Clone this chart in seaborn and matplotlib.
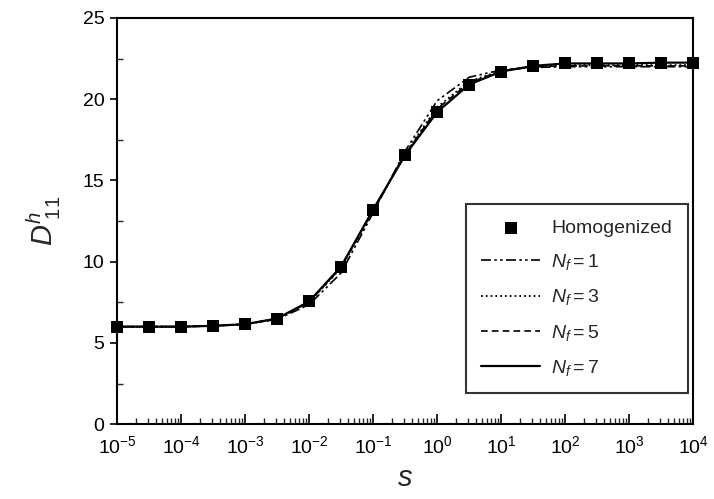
import numpy as np
import pandas as pd
import matplotlib
matplotlib.use("Agg")
import matplotlib.pyplot as plt
import seaborn as sns
from matplotlib.ticker import LogLocator, FixedLocator, NullFormatter

# ---- data ----
log_s = [-5.0, -4.5, -4.0, -3.5, -3.0, -2.5, -2.0, -1.5, -1.0, -0.5,
         0.0, 0.5, 1.0, 1.5, 2.0, 2.5, 3.0, 3.5, 4.0]
homogenized = [6.0, 6.0, 6.0, 6.05, 6.15, 6.5, 7.55, 9.7, 13.2, 16.55,
               19.2, 20.9, 21.7, 22.05, 22.2, 22.2, 22.2, 22.25, 22.25]
nf1 = [6.0, 6.0, 6.0, 6.05, 6.15, 6.45, 7.35, 9.3, 13.0, 16.8,
       19.9, 21.35, 21.8, 21.95, 22.0, 22.0, 22.0, 22.0, 22.0]
nf3 = [6.0, 6.0, 6.0, 6.05, 6.15, 6.5, 7.5, 9.6, 13.1, 16.65,
       19.5, 21.1, 21.75, 22.0, 22.1, 22.1, 22.1, 22.1, 22.1]
nf5 = [6.0, 6.0, 6.0, 6.05, 6.15, 6.5, 7.5, 9.65, 13.15, 16.6,
       19.4, 21.0, 21.75, 22.0, 22.05, 22.05, 22.05, 22.05, 22.05]
nf7 = [6.0, 6.0, 6.0, 6.05, 6.15, 6.5, 7.55, 9.7, 13.2, 16.55,
       19.2, 20.9, 21.7, 22.05, 22.2, 22.2, 22.2, 22.25, 22.25]
series_labels = ["$N_f = 1$", "$N_f = 3$", "$N_f = 5$", "$N_f = 7$"]
xtick_exps = [-5, -4, -3, -2, -1, 0, 1, 2, 3, 4]
yticks = [0, 5, 10, 15, 20, 25]

s_vals = [10.0 ** v for v in log_s]

sns.set_theme(style="ticks")
plt.rcParams["font.family"] = ["Liberation Sans", "DejaVu Sans"]
plt.rcParams["mathtext.fontset"] = "custom"
plt.rcParams["mathtext.rm"] = "Liberation Sans"
plt.rcParams["mathtext.it"] = "Liberation Sans:italic"
plt.rcParams["mathtext.bf"] = "Liberation Sans:bold"

fig = plt.figure(figsize=(7.14, 4.99), dpi=100)
ax = fig.add_axes([0.164, 0.150, 0.8066, 0.814])

styles = [(0, (6, 2, 1.5, 2, 1.5, 2)), ":", (0, (4, 2.5)), "-"]
widths = [1.2, 1.3, 1.2, 1.6]
for vals, lab, ls, lw in zip([nf1, nf3, nf5, nf7], series_labels, styles, widths):
    df = pd.DataFrame({"s": s_vals, "D": vals})
    sns.lineplot(data=df, x="s", y="D", ax=ax, color="black", linestyle=ls,
                 linewidth=lw, label=lab, zorder=3)

dfh = pd.DataFrame({"s": s_vals, "D": homogenized})
sns.scatterplot(data=dfh, x="s", y="D", ax=ax, marker="s", s=85, color="black",
                edgecolor="black", linewidth=0, label="Homogenized", zorder=4,
                clip_on=False)

ax.set_xscale("log")
ax.set_xlim(1e-5, 1e4)
ax.set_ylim(0, 25)

ax.xaxis.set_major_locator(FixedLocator([10.0 ** e for e in xtick_exps]))
ax.set_xticklabels([f"$10^{{{e}}}$" for e in xtick_exps])
ax.xaxis.set_minor_locator(LogLocator(base=10, subs=np.arange(2, 10), numticks=30))
ax.xaxis.set_minor_formatter(NullFormatter())
ax.set_yticks(yticks)
ax.yaxis.set_minor_locator(FixedLocator([2.5, 7.5, 12.5, 17.5, 22.5]))

ax.tick_params(axis="x", which="major", direction="in", length=7, width=1.2,
               labelsize=14, pad=8, colors="black")
ax.tick_params(axis="x", which="minor", direction="in", length=4, width=1.0)
ax.tick_params(axis="y", which="major", direction="out", length=5, width=1.2,
               labelsize=14, pad=4, colors="black")
ax.tick_params(axis="y", which="minor", direction="in", length=4, width=1.0)

for sp in ax.spines.values():
    sp.set_visible(True)
    sp.set_linewidth(1.5)
    sp.set_color("black")

ax.set_xlabel("$s$", fontsize=21, labelpad=5)
ax.set_ylabel("$D^{h}_{\\ 11}$", fontsize=21, labelpad=14)

handles, labels = ax.get_legend_handles_labels()
order = [labels.index("Homogenized")] + [labels.index(l) for l in series_labels]
leg = ax.legend([handles[i] for i in order], [labels[i] for i in order],
                loc="lower right", bbox_to_anchor=(0.991, 0.076),
                frameon=True, fancybox=False, edgecolor="black", fontsize=14,
                handlelength=3.0, labelspacing=0.78, borderpad=0.8,
                handletextpad=0.6, borderaxespad=0.0)
leg.get_frame().set_linewidth(1.5)

fig.savefig("out.png", dpi=100, facecolor="white")
